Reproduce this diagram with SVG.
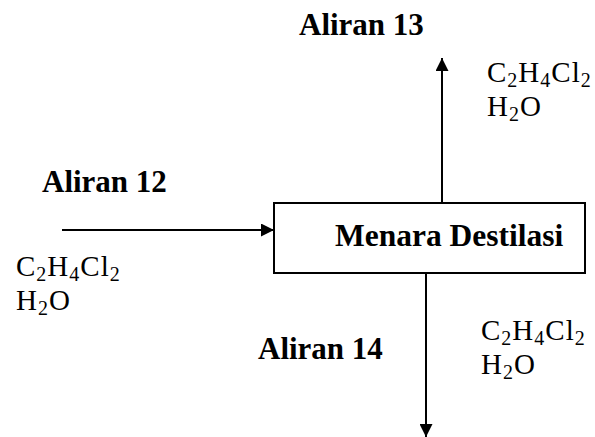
<svg xmlns="http://www.w3.org/2000/svg" width="595" height="437" viewBox="0 0 595 437">
<defs>
<style>
text{font-family:'Liberation Serif','Times New Roman',Tinos,'DejaVu Serif',serif;fill:#000}
.lbl{font-weight:bold;font-size:31px}
.big{font-weight:bold;font-size:31.5px}
.f{font-size:29px;letter-spacing:1px}
.s{font-size:20px}
.ln{stroke:#000;stroke-width:2;fill:none}
</style>
<marker id="ah" viewBox="0 0 10 10" refX="10" refY="5" markerWidth="6.5" markerHeight="6.5" markerUnits="strokeWidth" orient="auto">
<path d="M0,0 L10,5 L0,10 Z" fill="#000"/>
</marker>
</defs>
<rect width="595" height="437" fill="#fff"/>
<g id="connectors">
<line class="ln" x1="442" y1="203" x2="442" y2="58" marker-end="url(#ah)"/>
<line class="ln" x1="62" y1="230" x2="274" y2="230" marker-end="url(#ah)"/>
<line class="ln" x1="426" y1="273" x2="426" y2="437" marker-end="url(#ah)"/>
</g>
<g id="node-menara">
<rect x="274" y="203" width="311" height="70" fill="#fff" stroke="#000" stroke-width="2"/>
<text class="big" x="335" y="246">Menara Destilasi</text>
</g>
<g id="aliran13">
<text class="lbl" x="299" y="35">Aliran 13</text>
<text class="f" x="487" y="82">C<tspan class="s" dy="5">2</tspan><tspan dy="-5">H</tspan><tspan class="s" dy="5">4</tspan><tspan dy="-5">Cl</tspan><tspan class="s" dy="5">2</tspan></text>
<text class="f" x="487" y="116">H<tspan class="s" dy="5">2</tspan><tspan dy="-5">O</tspan></text>
</g>
<g id="aliran12">
<text class="lbl" x="42" y="192">Aliran 12</text>
<text class="f" x="16" y="276">C<tspan class="s" dy="5">2</tspan><tspan dy="-5">H</tspan><tspan class="s" dy="5">4</tspan><tspan dy="-5">Cl</tspan><tspan class="s" dy="5">2</tspan></text>
<text class="f" x="16" y="310">H<tspan class="s" dy="5">2</tspan><tspan dy="-5">O</tspan></text>
</g>
<g id="aliran14">
<text class="lbl" x="258" y="359">Aliran 14</text>
<text class="f" x="481" y="340">C<tspan class="s" dy="5">2</tspan><tspan dy="-5">H</tspan><tspan class="s" dy="5">4</tspan><tspan dy="-5">Cl</tspan><tspan class="s" dy="5">2</tspan></text>
<text class="f" x="481" y="374">H<tspan class="s" dy="5">2</tspan><tspan dy="-5">O</tspan></text>
</g>
</svg>
